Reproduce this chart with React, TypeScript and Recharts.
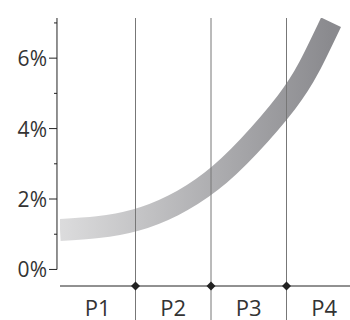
import { LineChart, Line, XAxis, YAxis, ReferenceLine, ReferenceDot } from "recharts";

// band centre line (x in periods, y in %)
const bandX = [0, 0.5, 1, 1.5, 2, 2.5, 3, 3.3, 3.59];
const bandY = [1.12, 1.2, 1.4, 1.82, 2.5, 3.5, 4.75, 5.75, 7.02];

const periods = ["P1", "P2", "P3", "P4"];
const periodTicks = [0.5, 1.5, 2.5, 3.5];
const boundaries = [1, 2, 3];
const yTicks = [0, 1, 2, 3, 4, 5, 6, 7];

const Y_MIN = -0.47;
const Y_MAX = 7.14;
const FONT = '"Open Sans", "Noto Sans", sans-serif';

const data = bandX.map((x, i) => ({ x, y: bandY[i] }));

function YTick({ x, y, payload }: { x?: number; y?: number; payload?: { value: number } }) {
  if (x == null || y == null || !payload) return null;
  const major = payload.value % 2 === 0;
  return (
    <g>
      <line x1={x - (major ? 8 : 3)} x2={x} y1={y} y2={y} stroke="#222" strokeWidth={1} />
      {major && (
        <text x={x - 10} y={y + 8} textAnchor="end" fontSize={21} fontFamily={FONT} fill="#333">
          {payload.value}%
        </text>
      )}
    </g>
  );
}

function XTick({ x, y, payload }: { x?: number; y?: number; payload?: { value: number } }) {
  if (x == null || y == null || !payload) return null;
  return (
    <text x={x} y={y + 22} textAnchor="middle" fontSize={22} fontFamily={FONT} fill="#333">
      {periods[Math.floor(payload.value)]}
    </text>
  );
}

function Diamond({ cx, cy }: { cx?: number; cy?: number }) {
  if (cx == null || cy == null) return null;
  return <path d={`M${cx},${cy - 4.5}L${cx + 4.5},${cy}L${cx},${cy + 4.5}L${cx - 4.5},${cy}Z`} fill="#222" />;
}

export default function App() {
  return (
    <div style={{ position: "absolute", left: 0, top: 0, width: 350, height: 320, overflow: "hidden", background: "#fff" }}>
      <LineChart width={362} height={320} data={data} margin={{ top: 18, right: 0, bottom: 0, left: 0 }}>
        <defs>
          <linearGradient id="bandFill" x1="0" y1="0" x2="1" y2="0">
            <stop offset="0%" stopColor="#dcdcdd" />
            <stop offset="100%" stopColor="#8a8a8e" />
          </linearGradient>
        </defs>
        <XAxis
          type="number"
          dataKey="x"
          domain={[0, 4]}
          ticks={periodTicks}
          allowDataOverflow
          tickLine={false}
          tick={<XTick />}
          axisLine={{ stroke: "#222" }}
          height={34}
        />
        <YAxis
          type="number"
          domain={[Y_MIN, Y_MAX]}
          ticks={yTicks}
          allowDataOverflow
          axisLine={false}
          tickLine={false}
          tickSize={3}
          tickMargin={0}
          tick={<YTick />}
          width={60}
          interval={0}
        />
        <Line
          type="natural"
          dataKey="y"
          stroke="url(#bandFill)"
          strokeWidth={22}
          strokeLinecap="butt"
          dot={false}
          activeDot={false}
          isAnimationActive={false}
        />
        <ReferenceLine
          segment={[{ x: -0.04, y: 0 }, { x: -0.04, y: Y_MAX }]}
          stroke="#222"
          ifOverflow="visible"
        />
        {boundaries.map(b => (
          <ReferenceLine
            key={b}
            segment={[{ x: b, y: Y_MAX }, { x: b, y: -1.5 }]}
            stroke="#777"
            ifOverflow="visible"
          />
        ))}
        {boundaries.map(b => (
          <ReferenceDot key={`d${b}`} x={b} y={Y_MIN} r={4} shape={<Diamond />} ifOverflow="visible" />
        ))}
      </LineChart>
    </div>
  );
}
